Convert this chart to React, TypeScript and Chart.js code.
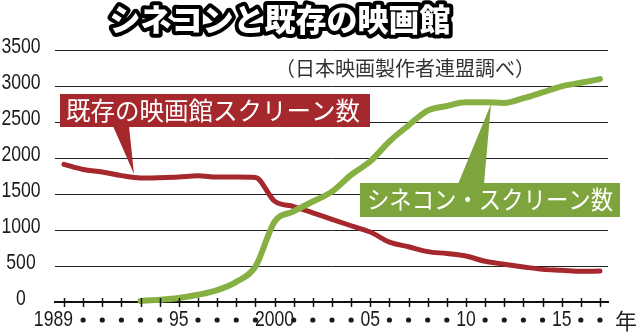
import React, { useEffect, useRef } from "react";
import { Chart, registerables } from "chart.js";

Chart.register(...registerables);

const years = [
  1989, 1990, 1991, 1992, 1993, 1994, 1995, 1996, 1997, 1998, 1999, 2000, 2001, 2002, 2003,
  2004, 2005, 2006, 2007, 2008, 2009, 2010, 2011, 2012, 2013, 2014, 2015, 2016, 2017,
];

const existingScreens = [
  1912, 1840, 1805, 1755, 1722, 1727, 1736, 1752, 1736, 1735, 1730, 1401, 1326, 1239, 1148,
  1059, 972, 832, 767, 700, 673, 638, 565, 525, 487, 453, 441, 427, 429,
];

const cineconScreens = [
  null, null, null, null, 15, 30, 55, 100, 165, 280, 490, 1115, 1259, 1396, 1533,
  1766, 1954, 2230, 2454, 2659, 2723, 2774, 2774, 2765, 2831, 2911, 2996, 3045, 3096,
];

const xTickLabels = [
  "1989", "•", "•", "•", "•", "•", "95", "•", "•", "•", "•", "2000", "•", "•", "•",
  "•", "05", "•", "•", "•", "•", "10", "•", "•", "•", "•", "15", "•", "•",
];

const yTickValues = [0, 500, 1000, 1500, 2000, 2500, 3000, 3500];
const yTickLabels = ["0", "500", "1000", "1500", "2000", "2500", "3000", "3500"];

const titleText = "シネコンと既存の映画館";
const sourceText = "（日本映画製作者連盟調べ）";
const existingLabel = "既存の映画館スクリーン数";
const cineconLabel = "シネコン・スクリーン数";
const yearUnit = "年";

const RED = "#a5282d";
const GREEN_LINE = "#87b043";
const GREEN_BOX = "#7ea53d";
const NUM_FONT = '22px "Liberation Sans", sans-serif';
const JP = '"Noto Sans CJK JP", sans-serif';

function condensedText(
  ctx: CanvasRenderingContext2D,
  text: string,
  x: number,
  y: number,
  align: CanvasTextAlign,
  sx = 0.8
) {
  ctx.save();
  ctx.translate(x, y);
  ctx.scale(sx, 1);
  ctx.textAlign = align;
  ctx.fillText(text, 0, 0);
  ctx.restore();
}

const overlay = {
  id: "overlay",
  afterDraw(chart: any) {
    const ctx = chart.ctx as CanvasRenderingContext2D;
    const xs = chart.scales.x;
    const ys = chart.scales.y;
    ctx.save();

    // x axis tick marks
    const axisY = ys.getPixelForValue(0);
    ctx.strokeStyle = "#111";
    ctx.lineWidth = 1.5;
    years.forEach((yr) => {
      const px = Math.round(xs.getPixelForValue(yr)) + 0.5;
      ctx.beginPath();
      ctx.moveTo(px, axisY - 4);
      ctx.lineTo(px, axisY + 5);
      ctx.stroke();
    });

    // x labels
    ctx.fillStyle = "#1a1a1a";
    ctx.font = NUM_FONT;
    ctx.textBaseline = "middle";
    xTickLabels.forEach((lab, i) => {
      const px = xs.getPixelForValue(years[i]);
      if (lab === "•") {
        ctx.beginPath();
        ctx.arc(px, 320, 2.6, 0, Math.PI * 2);
        ctx.fill();
      } else if (i === 0) {
        condensedText(ctx, lab, px + 9, 320, "right");
      } else {
        condensedText(ctx, lab, px, 320, "center");
      }
    });

    // y labels
    yTickValues.forEach((v, i) => {
      condensedText(ctx, yTickLabels[i], 21, ys.getPixelForValue(v) - 3, "center");
    });

    // year unit
    ctx.font = `22px ${JP}`;
    ctx.fillStyle = "#222";
    ctx.textAlign = "center";
    ctx.fillText(yearUnit, 626, 321);

    // title
    ctx.font = `900 31px ${JP}`;
    ctx.lineJoin = "round";
    ctx.lineWidth = 8;
    ctx.strokeStyle = "#000";
    ctx.strokeText(titleText, 280, 19, 350);
    ctx.fillStyle = "#fff";
    ctx.fillText(titleText, 280, 19, 350);

    // source
    ctx.font = `20px ${JP}`;
    ctx.fillStyle = "#333";
    ctx.fillText(sourceText, 405, 68, 266);

    // existing label
    ctx.fillStyle = RED;
    ctx.fillRect(60, 94, 310, 33);
    ctx.beginPath();
    ctx.moveTo(113, 126);
    ctx.lineTo(129, 126);
    ctx.lineTo(134, 174);
    ctx.closePath();
    ctx.fill();
    ctx.fillStyle = "#fff";
    ctx.font = `24.5px ${JP}`;
    ctx.textAlign = "left";
    ctx.fillText(existingLabel, 66, 111, 298);

    // cinecon label
    ctx.fillStyle = GREEN_BOX;
    ctx.fillRect(360, 183, 260, 34);
    ctx.beginPath();
    ctx.moveTo(458, 184);
    ctx.lineTo(484, 184);
    ctx.lineTo(491, 104);
    ctx.closePath();
    ctx.fill();
    ctx.fillStyle = "#fff";
    ctx.fillText(cineconLabel, 367, 200, 246);

    ctx.restore();
  },
};

export default function App() {
  const ref = useRef<HTMLCanvasElement | null>(null);

  useEffect(() => {
    if (!ref.current) return;
    const chart = new Chart(ref.current, {
      type: "line",
      data: {
        datasets: [
          {
            label: "既存の映画館スクリーン数",
            data: years.map((y, i) => ({ x: y, y: existingScreens[i] })),
            borderColor: RED,
            borderWidth: 5,
            pointRadius: 0,
            cubicInterpolationMode: "monotone",
            borderCapStyle: "round",
            borderJoinStyle: "round",
            clip: false as any,
            order: 2,
          },
          {
            label: "シネコン・スクリーン数",
            data: years.map((y, i) => ({ x: y, y: cineconScreens[i] })),
            borderColor: GREEN_LINE,
            borderWidth: 6,
            pointRadius: 0,
            cubicInterpolationMode: "monotone",
            borderCapStyle: "round",
            borderJoinStyle: "round",
            clip: false as any,
            order: 1,
          },
        ],
      },
      options: {
        animation: false,
        responsive: false,
        maintainAspectRatio: false,
        layout: { padding: { left: 55, right: 31, top: 50, bottom: 32 } },
        plugins: {
          legend: { display: false },
          tooltip: { enabled: false },
          title: { display: false },
        },
        scales: {
          x: {
            type: "linear",
            min: 1988.53,
            max: 2017.42,
            grid: { display: false, drawTicks: false },
            border: { display: true, color: "#111", width: 2 },
            ticks: { display: false },
            afterFit: (s: any) => {
              s.height = 0;
            },
          },
          y: {
            min: 0,
            max: 3500,
            ticks: { display: false, stepSize: 500 },
            grid: { color: "#222", lineWidth: 1, drawTicks: false },
            border: { display: false },
            afterFit: (s: any) => {
              s.width = 0;
            },
          },
        },
      },
      plugins: [overlay],
    });
    return () => chart.destroy();
  }, []);

  return (
    <div style={{ position: "absolute", left: 0, top: 0, width: 639, height: 334, background: "#fff" }}>
      <canvas ref={ref} width={639} height={334} />
    </div>
  );
}
